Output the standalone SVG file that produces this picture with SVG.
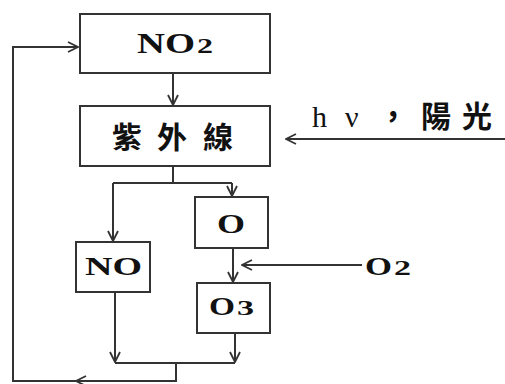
<svg xmlns="http://www.w3.org/2000/svg" width="505" height="384" viewBox="0 0 505 384">
<defs>
<style>
.box{fill:#fff;stroke:#333;stroke-width:2}
.ln{fill:none;stroke:#333;stroke-width:2}
.t{font-family:"Liberation Serif","Times New Roman",serif;font-weight:bold;fill:#111}
.c{font-family:"Noto Sans CJK TC","Noto Sans CJK SC",serif;font-weight:bold;fill:#111}
</style>
<marker id="ah" viewBox="0 0 12 12" refX="11" refY="6" markerWidth="12" markerHeight="12" markerUnits="userSpaceOnUse" orient="auto">
<polyline points="1,1 11,6 1,11" fill="none" stroke="#333" stroke-width="1.8"/>
</marker>
</defs>
<rect width="505" height="384" fill="#fff"/>
<g id="connectors">
<line class="ln" x1="173" y1="73" x2="173" y2="105" marker-end="url(#ah)"/>
<line class="ln" x1="505" y1="139" x2="286" y2="139" marker-end="url(#ah)"/>
<polyline class="ln" points="173,166 173,183"/>
<polyline class="ln" points="113,183 232,183"/>
<polyline class="ln" points="113,183 113,241" marker-end="url(#ah)"/>
<polyline class="ln" points="232,183 232,196" marker-end="url(#ah)"/>
<line class="ln" x1="233" y1="248" x2="233" y2="282" marker-end="url(#ah)"/>
<line class="ln" x1="362" y1="265" x2="242" y2="265" marker-end="url(#ah)"/>
<line class="ln" x1="115" y1="292" x2="115" y2="362" marker-end="url(#ah)"/>
<line class="ln" x1="235" y1="333" x2="235" y2="362" marker-end="url(#ah)"/>
<polyline class="ln" points="115,363 235,363"/>
<polyline class="ln" points="176,363 176,381 76,381" marker-end="url(#ah)"/>
<polyline class="ln" points="76,381 13,381 13,47 78,47" marker-end="url(#ah)"/>
</g>
<g id="no2">
<rect class="box" x="80" y="14" width="190" height="59"/>
<text class="t" x="137" y="53" font-size="29" textLength="58" lengthAdjust="spacingAndGlyphs">NO</text>
<text class="t" x="197" y="53" font-size="21" textLength="16" lengthAdjust="spacingAndGlyphs">2</text>
</g>
<g id="uv">
<rect class="box" x="80" y="106" width="190" height="60"/>
<text class="c" y="148" font-size="30"><tspan x="112">紫</tspan><tspan x="157">外</tspan><tspan x="203">線</tspan></text>
</g>
<g id="no">
<rect class="box" x="76" y="242" width="74" height="50"/>
<text class="t" x="85" y="275" font-size="26" textLength="57" lengthAdjust="spacingAndGlyphs">NO</text>
</g>
<g id="o">
<rect class="box" x="195" y="197" width="73" height="51"/>
<text class="t" x="217" y="233" font-size="28" textLength="28" lengthAdjust="spacingAndGlyphs">O</text>
</g>
<g id="o3">
<rect class="box" x="197" y="283" width="73" height="50"/>
<text class="t" x="209" y="315" font-size="26" textLength="26" lengthAdjust="spacingAndGlyphs">O</text>
<text class="t" x="237" y="315" font-size="20" textLength="17" lengthAdjust="spacingAndGlyphs">3</text>
</g>
<g id="o2">
<text class="t" x="365" y="275" font-size="26" textLength="27" lengthAdjust="spacingAndGlyphs">O</text>
<text class="t" x="394" y="275" font-size="20" textLength="17" lengthAdjust="spacingAndGlyphs">2</text>
</g>
<g id="light">
<text x="312" y="127" font-size="30" fill="#111" font-family="Liberation Serif,serif">h</text>
<text x="345" y="127" font-size="30" fill="#111" font-family="Liberation Serif,serif">ν</text>
<text class="c" y="127" font-size="30"><tspan x="378">，</tspan><tspan x="421">陽</tspan><tspan x="462">光</tspan></text>
</g>
</svg>
